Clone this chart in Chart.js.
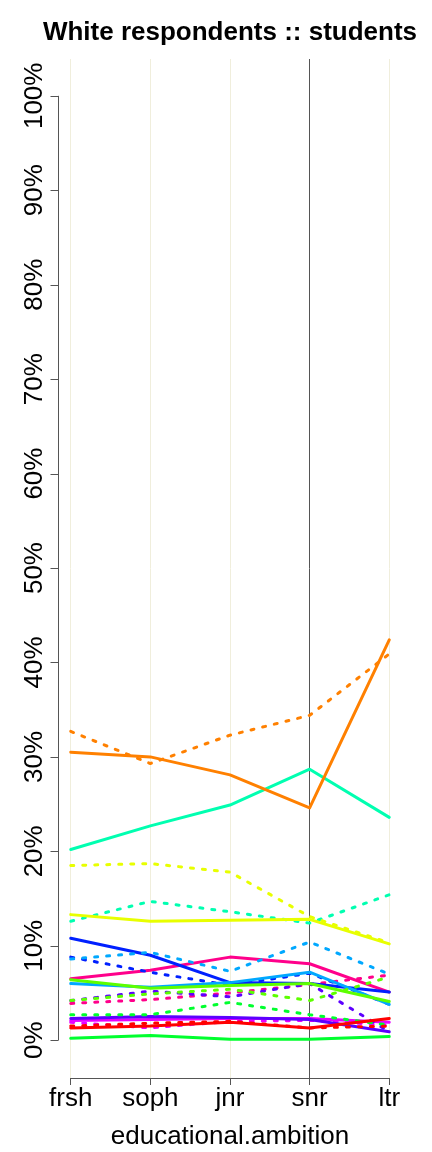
<!DOCTYPE html>
<html>
<head>
<meta charset="utf-8">
<script src="https://cdn.jsdelivr.net/npm/chart.js@4.4.0/dist/chart.umd.min.js"></script>
<style>
  html, body { margin: 0; padding: 0; background: #fff; }
  #wrap { width: 432px; height: 1152px; }
</style>
</head>
<body>
<div id="wrap"><canvas id="chart" width="432" height="1152"></canvas></div>
<script>
// categories on the x axis and tick labels on the y axis
const categories = ['frsh', 'soph', 'jnr', 'snr', 'ltr'];
const yTicks = [0, 10, 20, 30, 40, 50, 60, 70, 80, 90, 100];

// percentages per category, solid = first line, dotted = second line of each colour
const redSolid = [1.3, 1.5, 1.9, 1.3, 2.3];
const redDotted = [1.5, 1.8, 2.0, 1.3, 1.5];
const orangeSolid = [30.5, 30.0, 28.1, 24.6, 42.4];
const orangeDotted = [32.7, 29.3, 32.3, 34.4, 40.9];
const yellowSolid = [13.3, 12.6, 12.7, 12.8, 10.2];
const yellowDotted = [18.5, 18.7, 17.8, 13.1, 10.3];
const limeSolid = [6.4, 5.5, 5.8, 6.0, 4.1];
const limeDotted = [4.2, 4.9, 5.4, 4.2, 6.7];
const greenSolid = [0.2, 0.5, 0.1, 0.1, 0.4];
const greenDotted = [2.7, 2.7, 4.0, 2.7, 1.6];
const aquaSolid = [20.2, 22.7, 24.9, 28.7, 23.6];
const aquaDotted = [12.6, 14.7, 13.6, 12.4, 15.4];
const skySolid = [6.0, 5.6, 6.1, 7.2, 3.8];
const skyDotted = [8.6, 9.3, 7.3, 10.4, 7.0];
const blueSolid = [10.8, 9.0, 6.1, 6.0, 5.1];
const blueDotted = [8.8, 7.2, 5.8, 7.1, 3.8];
const violetSolid = [2.3, 2.5, 2.4, 2.2, 0.9];
const violetDotted = [4.2, 5.2, 4.6, 6.0, 0.9];
const magentaSolid = [2.1, 2.2, 2.3, 2.3, 1.9];
const magentaDotted = [1.9, 1.3, 2.0, 2.1, 1.6];
const pinkSolid = [6.5, 7.4, 8.8, 8.1, 5.1];
const pinkDotted = [3.9, 4.3, 5.0, 5.9, 6.9];

const groups = [
  ['#FF0000', redSolid, redDotted],
  ['#FF8000', orangeSolid, orangeDotted],
  ['#E8FF00', yellowSolid, yellowDotted],
  ['#5DFF00', limeSolid, limeDotted],
  ['#00FF2E', greenSolid, greenDotted],
  ['#00FFB0', aquaSolid, aquaDotted],
  ['#00A8FF', skySolid, skyDotted],
  ['#0020FF', blueSolid, blueDotted],
  ['#5D00FF', violetSolid, violetDotted],
  ['#E800FF', magentaSolid, magentaDotted],
  ['#FF008B', pinkSolid, pinkDotted]
];

const toPoints = vals => vals.map((v, i) => ({ x: i, y: v }));

const datasets = [];
groups.forEach(([color, solid, dotted]) => {
  datasets.push({
    data: toPoints(solid), borderColor: color, borderWidth: 3,
    pointRadius: 0, tension: 0, borderCapStyle: 'round', borderJoinStyle: 'round'
  });
  datasets.push({
    data: toPoints(dotted), borderColor: color, borderWidth: 3, borderDash: [3, 9],
    pointRadius: 0, tension: 0, borderCapStyle: 'round', borderJoinStyle: 'round'
  });
});

const FONT = "'Liberation Sans', Arial, Helvetica, sans-serif";

// title, y axis line, y ticks and their rotated labels, x axis line
const decorations = {
  id: 'decorations',
  afterDraw(chart) {
    const { ctx, chartArea, scales: { x, y } } = chart;
    ctx.save();
    ctx.fillStyle = '#000';
    ctx.font = 'bold 26px ' + FONT;
    ctx.textAlign = 'center';
    ctx.textBaseline = 'alphabetic';
    ctx.fillText('White respondents :: students', (chartArea.left + chartArea.right) / 2, 40);

    ctx.strokeStyle = '#555';
    ctx.lineWidth = 1;
    const axisX = chartArea.left + 0.5;
    ctx.beginPath();
    ctx.moveTo(axisX, y.getPixelForValue(yTicks[0]));
    ctx.lineTo(axisX, y.getPixelForValue(yTicks[yTicks.length - 1]));
    yTicks.forEach(t => {
      const py = Math.round(y.getPixelForValue(t)) + 0.5;
      ctx.moveTo(axisX - 8, py);
      ctx.lineTo(axisX, py);
    });
    const axisY = chartArea.bottom + 0.5;
    ctx.moveTo(x.getPixelForValue(0), axisY);
    ctx.lineTo(x.getPixelForValue(categories.length - 1), axisY);
    ctx.stroke();

    ctx.font = '26px ' + FONT;
    ctx.textAlign = 'center';
    ctx.textBaseline = 'alphabetic';
    yTicks.forEach(t => {
      ctx.save();
      ctx.translate(42, y.getPixelForValue(t));
      ctx.rotate(-Math.PI / 2);
      ctx.fillText(t + '%', 0, 0);
      ctx.restore();
    });
    ctx.restore();
  }
};

new Chart(document.getElementById('chart').getContext('2d'), {
  type: 'line',
  data: { datasets },
  plugins: [decorations],
  options: {
    responsive: false,
    animation: false,
    devicePixelRatio: 1,
    layout: { padding: { top: 59, right: 30, left: 0, bottom: 0 } },
    plugins: { legend: { display: false }, tooltip: { enabled: false }, title: { display: false } },
    scales: {
      x: {
        type: 'linear',
        min: -0.16,
        max: 4.16,
        afterBuildTicks: scale => { scale.ticks = categories.map((c, i) => ({ value: i })); },
        afterFit: scale => { scale.height = 74; },
        border: { display: false },
        grid: {
          color: ctx => (ctx.tick && ctx.tick.value === 3 ? '#555' : '#F0EEDC'),
          lineWidth: 1,
          drawTicks: true,
          tickLength: 7,
          tickColor: '#555'
        },
        ticks: {
          callback: v => categories[v],
          autoSkip: false,
          maxRotation: 0,
          minRotation: 0,
          padding: -2,
          color: '#000',
          font: { family: FONT, size: 26 }
        },
        title: {
          display: true,
          text: 'educational.ambition',
          color: '#000',
          font: { family: FONT, size: 26 },
          padding: { top: 0, bottom: 0 }
        }
      },
      y: {
        type: 'linear',
        min: -4.0,
        max: 103.9,
        afterBuildTicks: scale => { scale.ticks = yTicks.map(v => ({ value: v })); },
        afterFit: scale => { scale.width = 58; },
        border: { display: false },
        grid: { display: false },
        ticks: { display: false }
      }
    }
  }
});
</script>
</body>
</html>
